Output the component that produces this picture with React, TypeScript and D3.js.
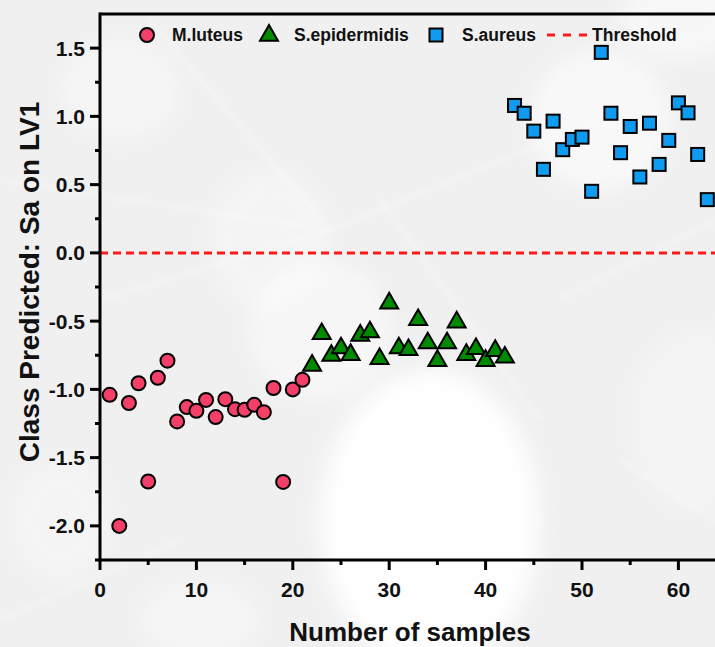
import React, { useEffect, useRef } from "react";
import * as d3 from "d3";

// Sample indices and class-prediction scores on LV1
const luteusX = [1, 2, 3, 4, 5, 6, 7, 8, 9, 10, 11, 12, 13, 14, 15, 16, 17, 18, 19, 20, 21];
const luteusY = [-1.04, -2.0, -1.10, -0.955, -1.675, -0.915, -0.79, -1.235, -1.13, -1.157, -1.077, -1.203, -1.072, -1.145, -1.15, -1.113, -1.167, -0.99, -1.678, -1.0, -0.93];

const epidermidisX = [22, 23, 24, 25, 26, 27, 28, 29, 30, 31, 32, 33, 34, 35, 36, 37, 38, 39, 40, 41, 42];
const epidermidisY = [-0.814, -0.582, -0.741, -0.687, -0.735, -0.594, -0.57, -0.765, -0.358, -0.687, -0.699, -0.48, -0.65, -0.779, -0.65, -0.497, -0.735, -0.692, -0.779, -0.706, -0.755];

const aureusX = [43, 44, 45, 46, 47, 48, 49, 50, 51, 52, 53, 54, 55, 56, 57, 58, 59, 60, 61, 62, 63];
const aureusY = [1.08, 1.023, 0.892, 0.612, 0.965, 0.756, 0.831, 0.848, 0.451, 1.469, 1.023, 0.734, 0.926, 0.556, 0.95, 0.648, 0.824, 1.099, 1.026, 0.721, 0.39];

const threshold = 0;

const xTicks = [0, 10, 20, 30, 40, 50, 60];
const xMinorTicks = [5, 15, 25, 35, 45, 55, 65];
const yTicks = [-2.0, -1.5, -1.0, -0.5, 0.0, 0.5, 1.0, 1.5];
const yMinorTicks = [-2.25, -1.75, -1.25, -0.75, -0.25, 0.25, 0.75, 1.25];

const seriesNames = ["M.luteus", "S.epidermidis", "S.aureus", "Threshold"];

const W = 715;
const H = 647;
const FONT = "'Liberation Sans', Arial, sans-serif";

const COL_PINK = "#f43f69";
const COL_GREEN = "#008a00";
const COL_BLUE = "#0f9bf0";

export default function App() {
  const ref = useRef<SVGSVGElement | null>(null);

  useEffect(() => {
    const svg = d3.select(ref.current);
    svg.selectAll("*").remove();

    const left = 100, top = 14, bottom = 560;
    const x = d3.scaleLinear().domain([0, 1]).range([left, left + 9.64]);
    const y = d3.scaleLinear().domain([-2.25, 1.75]).range([bottom, top]);

    // soft photographic backdrop
    const defs = svg.append("defs");
    const blur = defs.append("filter").attr("id", "soft").attr("x", "-50%").attr("y", "-50%").attr("width", "200%").attr("height", "200%");
    blur.append("feGaussianBlur").attr("stdDeviation", 10);
    const blurS = defs.append("filter").attr("id", "softS");
    blurS.append("feGaussianBlur").attr("stdDeviation", 2);

    svg.append("rect").attr("width", W).attr("height", H).attr("fill", "#f0f0f0");
    const bg = svg.append("g");
    const blobs: [number, number, number, number, number][] = [
      [430, 520, 110, 150, 0.95],
      [320, 330, 70, 70, 0.45],
      [600, 120, 70, 70, 0.55],
      [270, 240, 60, 70, 0.3],
      [680, 20, 60, 40, 0.5],
      [60, 520, 50, 60, 0.3],
      [120, 90, 60, 50, 0.35],
      [700, 420, 70, 90, 0.25],
      [200, 620, 60, 40, 0.35],
    ];
    blobs.forEach(([cx, cy, rx, ry, o]) => {
      bg.append("ellipse").attr("cx", cx).attr("cy", cy).attr("rx", rx).attr("ry", ry)
        .attr("fill", "#ffffff").attr("opacity", o).attr("filter", "url(#soft)");
    });
    const lines: [number, number, number, number][] = [
      [0, 180, 330, 230], [330, 230, 600, 120], [100, 300, 330, 230], [380, 200, 540, 420],
      [0, 620, 180, 540], [560, 300, 715, 220], [620, 460, 715, 520], [150, 20, 330, 230],
    ];
    lines.forEach(([x1, y1, x2, y2]) => {
      bg.append("line").attr("x1", x1).attr("y1", y1).attr("x2", x2).attr("y2", y2)
        .attr("stroke", "#ffffff").attr("stroke-width", 3).attr("opacity", 0.3).attr("filter", "url(#softS)");
    });

    // threshold
    svg.append("line")
      .attr("x1", left).attr("x2", W)
      .attr("y1", y(threshold)).attr("y2", y(threshold))
      .attr("stroke", "#ff1a1a").attr("stroke-width", 3)
      .attr("stroke-dasharray", "8,5");

    // axes frame
    const axisG = svg.append("g").attr("stroke", "#000");
    axisG.append("line").attr("x1", left).attr("x2", W).attr("y1", top).attr("y2", top).attr("stroke-width", 3);
    axisG.append("line").attr("x1", left).attr("x2", left).attr("y1", top - 1.5).attr("y2", bottom + 1.5).attr("stroke-width", 3);
    axisG.append("line").attr("x1", left - 1.5).attr("x2", W).attr("y1", bottom).attr("y2", bottom).attr("stroke-width", 3);

    xTicks.forEach((t) => {
      axisG.append("line").attr("x1", x(t)).attr("x2", x(t)).attr("y1", bottom).attr("y2", bottom + 10).attr("stroke-width", 3);
    });
    xMinorTicks.forEach((t) => {
      axisG.append("line").attr("x1", x(t)).attr("x2", x(t)).attr("y1", bottom).attr("y2", bottom + 5).attr("stroke-width", 3);
    });
    yTicks.forEach((t) => {
      axisG.append("line").attr("x1", left - 10).attr("x2", left).attr("y1", y(t)).attr("y2", y(t)).attr("stroke-width", 3);
    });
    yMinorTicks.forEach((t) => {
      axisG.append("line").attr("x1", left - 5).attr("x2", left).attr("y1", y(t)).attr("y2", y(t)).attr("stroke-width", 3);
    });

    const tl = svg.append("g").attr("font-family", FONT).attr("font-weight", "bold").attr("font-size", 21).attr("fill", "#111");
    xTicks.forEach((t) => {
      tl.append("text").attr("x", x(t)).attr("y", bottom + 37).attr("text-anchor", "middle").text(String(t));
    });
    yTicks.forEach((t) => {
      tl.append("text").attr("x", 85).attr("y", y(t) + 7.5).attr("text-anchor", "end").text(t.toFixed(1));
    });

    svg.append("text").attr("x", 410).attr("y", 641).attr("text-anchor", "middle")
      .attr("font-family", FONT).attr("font-weight", "bold").attr("font-size", 26).attr("fill", "#111")
      .text("Number of samples");
    svg.append("text").attr("transform", "translate(39,282) rotate(-90)").attr("text-anchor", "middle")
      .attr("font-family", FONT).attr("font-weight", "bold").attr("font-size", 28).attr("fill", "#111")
      .text("Class Predicted: Sa on LV1");

    // markers
    const plot = svg.append("g").attr("stroke", "#000").attr("stroke-width", 2);
    const tri = d3.symbol().type(d3.symbolTriangle).size(140)();
    const sq = 13;

    const drawCircle = (g: any, cx: number, cy: number) =>
      g.append("circle").attr("cx", cx).attr("cy", cy).attr("r", 7).attr("fill", COL_PINK);
    const drawTri = (g: any, cx: number, cy: number) =>
      g.append("path").attr("d", tri).attr("transform", `translate(${cx},${cy + 1.5})`).attr("fill", COL_GREEN);
    const drawSq = (g: any, cx: number, cy: number) =>
      g.append("rect").attr("x", cx - sq / 2).attr("y", cy - sq / 2).attr("width", sq).attr("height", sq).attr("fill", COL_BLUE);

    luteusX.forEach((v, i) => drawCircle(plot, x(v), y(luteusY[i])));
    epidermidisX.forEach((v, i) => drawTri(plot, x(v), y(epidermidisY[i])));
    aureusX.forEach((v, i) => drawSq(plot, x(v), y(aureusY[i])));

    // legend
    const lg = svg.append("g");
    const ly = 35;
    const lm = lg.append("g").attr("stroke", "#000").attr("stroke-width", 2);
    drawCircle(lm, 147, ly);
    drawTri(lm, 269, ly - 1);
    drawSq(lm, 436, ly);
    lg.append("line").attr("x1", 547).attr("x2", 588).attr("y1", ly).attr("y2", ly)
      .attr("stroke", "#ff1a1a").attr("stroke-width", 3).attr("stroke-dasharray", "8,8");
    const lt = lg.append("g").attr("font-family", FONT).attr("font-weight", "bold").attr("font-size", 17.5).attr("fill", "#111");
    const lx = [172, 294, 462, 592];
    seriesNames.forEach((n, i) => lt.append("text").attr("x", lx[i]).attr("y", ly + 6).text(n));
  }, []);

  return (
    <svg ref={ref} width={W} height={H} style={{ position: "absolute", left: 0, top: 0, display: "block" }} />
  );
}
